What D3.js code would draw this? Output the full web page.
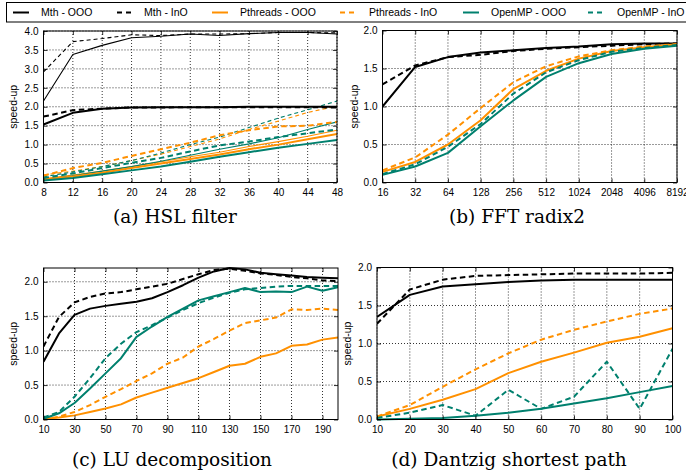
<!DOCTYPE html>
<html><head><meta charset="utf-8">
<script src="https://cdn.jsdelivr.net/npm/d3@7"></script>
<style>
body{margin:0;background:#fff;}
svg{display:block;font-family:"Liberation Sans",Arial,sans-serif;}
</style></head><body>
<svg id="c" width="686" height="475"></svg>
<script>
// ---------- DATA ----------
const seriesNames = ["Mth - OOO","Mth - InO","Pthreads - OOO","Pthreads - InO","OpenMP - OOO","OpenMP - InO"];
const captions = ["(a) HSL filter","(b) FFT radix2","(c) LU decomposition","(d) Dantzig shortest path"];

// (a) HSL filter: two configurations (thin = high, thick = low)
const xA = [8,12,16,20,24,28,32,36,40,44,48];
const aMthOOOHi = [2.15,3.38,3.62,3.82,3.86,3.92,3.88,3.93,3.96,3.96,3.92];
const aMthInOHi = [2.92,3.72,3.80,3.90,3.88,3.92,3.92,3.93,3.96,3.96,3.95];
const aPthOOOHi = [0.10,0.20,0.30,0.42,0.55,0.68,0.80,0.95,1.08,1.22,1.38];
const aPthInOHi = [0.20,0.30,0.42,0.58,0.75,0.95,1.15,1.40,1.62,1.85,2.02];
const aOmpOOOHi = [0.08,0.18,0.30,0.42,0.56,0.72,0.88,1.02,1.18,1.40,1.60];
const aOmpInOHi = [0.15,0.28,0.42,0.58,0.78,1.00,1.20,1.45,1.70,1.92,2.15];
const aMthOOOLo = [1.53,1.84,1.95,1.98,1.99,1.99,1.99,2.00,2.00,2.00,2.00];
const aMthInOLo = [1.74,1.91,1.95,1.98,1.98,1.99,1.99,1.99,1.99,1.99,1.98];
const aPthOOOLo = [0.08,0.16,0.26,0.38,0.50,0.62,0.74,0.88,1.00,1.14,1.28];
const aPthInOLo = [0.18,0.38,0.52,0.70,0.88,1.05,1.25,1.38,1.48,1.50,1.60];
const aOmpOOOLo = [0.05,0.12,0.22,0.32,0.42,0.55,0.68,0.80,0.92,1.02,1.12];
const aOmpInOLo = [0.12,0.24,0.38,0.52,0.65,0.82,0.98,1.08,1.20,1.30,1.40];

// (b) FFT radix2
const xB = [16,32,64,128,256,512,1024,2048,4096,8192];
const bMthOOO = [1.00,1.52,1.65,1.71,1.74,1.77,1.79,1.82,1.83,1.83];
const bMthInO = [1.29,1.54,1.65,1.68,1.73,1.76,1.78,1.80,1.82,1.83];
const bPthOOO = [0.14,0.27,0.50,0.82,1.23,1.47,1.63,1.73,1.78,1.82];
const bPthInO = [0.16,0.33,0.63,0.98,1.32,1.53,1.66,1.74,1.79,1.82];
const bOmpOOO = [0.10,0.21,0.39,0.74,1.08,1.39,1.57,1.69,1.76,1.80];
const bOmpInO = [0.11,0.24,0.47,0.77,1.17,1.45,1.61,1.72,1.77,1.81];

// (c) LU decomposition
const xC = [10,20,30,40,50,60,70,80,90,100,110,120,130,140,150,160,170,180,190,200];
const cMthOOO = [0.84,1.25,1.52,1.61,1.65,1.68,1.71,1.76,1.85,1.95,2.06,2.15,2.20,2.18,2.13,2.11,2.09,2.07,2.06,2.05];
const cMthInO = [1.06,1.49,1.70,1.78,1.83,1.85,1.89,1.93,1.97,2.04,2.11,2.17,2.19,2.16,2.12,2.10,2.07,2.05,2.02,2.01];
const cPthOOO = [0.01,0.03,0.06,0.11,0.16,0.22,0.32,0.39,0.46,0.53,0.60,0.69,0.78,0.81,0.91,0.96,1.07,1.09,1.16,1.19];
const cPthInO = [0.00,0.04,0.11,0.21,0.33,0.44,0.56,0.67,0.81,0.90,1.06,1.17,1.29,1.40,1.44,1.48,1.60,1.59,1.61,1.59];
const cOmpOOO = [0.01,0.09,0.24,0.45,0.67,0.89,1.20,1.35,1.49,1.61,1.73,1.79,1.85,1.91,1.85,1.86,1.85,1.93,1.87,1.92];
const cOmpInO = [0.03,0.11,0.33,0.60,0.89,1.10,1.27,1.37,1.48,1.59,1.69,1.77,1.84,1.89,1.91,1.93,1.94,1.94,1.94,1.94];

// (d) Dantzig shortest path
const xD = [10,20,30,40,50,60,70,80,90,100];
const dMthOOO = [1.35,1.64,1.75,1.78,1.81,1.83,1.84,1.84,1.84,1.84];
const dMthInO = [1.26,1.71,1.84,1.89,1.90,1.91,1.92,1.92,1.92,1.93];
const dPthOOO = [0.04,0.14,0.26,0.40,0.61,0.76,0.88,1.01,1.09,1.20];
const dPthInO = [0.04,0.19,0.43,0.66,0.87,1.05,1.18,1.29,1.39,1.46];
const dOmpOOO = [0.00,0.01,0.02,0.05,0.09,0.14,0.21,0.28,0.36,0.44];
const dOmpInO = [0.02,0.09,0.19,0.05,0.39,0.14,0.30,0.76,0.14,0.93];

const yTicksA = [0,0.5,1,1.5,2,2.5,3,3.5,4];
const xTicksA = [8,12,16,20,24,28,32,36,40,44,48];
const yTicksB = [0,0.5,1,1.5,2];
const yTicksC = [0,0.5,1,1.5,2];
const xTicksC = [10,30,50,70,90,110,130,150,170,190];
const yTicksD = [0,0.5,1,1.5,2];
const xTicksD = [10,20,30,40,50,60,70,80,90,100];

// ---------- STYLE ----------
const BLACK = "#000", ORANGE = "#ff9000", TEAL = "#00806e";
const colors = [BLACK,BLACK,ORANGE,ORANGE,TEAL,TEAL];
const dashed = [false,true,false,true,false,true];
const SANS = "'Liberation Sans',Arial,sans-serif";
const SERIF = "'DejaVu Serif',serif";

const svg = d3.select("#c");

function drawPanel(p, idx){
  const g = svg.append("g");
  const x = p.xLog ? d3.scaleLog().base(2).domain(p.xDomain).range([p.l,p.r])
                   : d3.scaleLinear().domain(p.xDomain).range([p.l,p.r]);
  const y = d3.scaleLinear().domain(p.yDomain).range([p.b,p.t]);
  const W = p.r-p.l, H = p.b-p.t;
  const cid = "clip"+idx;
  g.append("clipPath").attr("id",cid).append("rect")
    .attr("x",p.l).attr("y",p.t-2).attr("width",W).attr("height",H+4);

  // grid
  const grid = g.append("g").attr("stroke","#000").attr("stroke-width",0.8)
    .attr("stroke-dasharray","1,2").attr("fill","none");
  p.xTicks.forEach(v=>{ grid.append("line").attr("x1",x(v)).attr("x2",x(v)).attr("y1",p.t).attr("y2",p.b); });
  p.yTicks.forEach(v=>{ grid.append("line").attr("x1",p.l).attr("x2",p.r).attr("y1",y(v)).attr("y2",y(v)); });

  // lines
  const lg = g.append("g").attr("clip-path",`url(#${cid})`);
  p.series.forEach(s=>{
    const line = d3.line().x((d,i)=>x(s.x[i])).y(d=>y(d));
    lg.append("path").datum(s.y).attr("d",line).attr("fill","none")
      .attr("stroke",colors[s.k]).attr("stroke-width",s.w)
      .attr("stroke-dasharray",dashed[s.k] ? (s.w>1.5?"5.5,3.5":"4,3") : null)
      .attr("stroke-linejoin","round");
  });

  // axes (bottom/left with labels, top/right inward ticks)
  const tl = 4;
  const ab = d3.axisBottom(x).tickValues(p.xTicks).tickSize(-tl).tickPadding(6).tickFormat(d3.format("d"));
  const al = d3.axisLeft(y).tickValues(p.yTicks).tickSize(-tl).tickPadding(5).tickFormat(d3.format(".1f"));
  const at = d3.axisTop(x).tickValues(p.xTicks).tickSize(-tl).tickFormat("");
  const ar = d3.axisRight(y).tickValues(p.yTicks).tickSize(-tl).tickFormat("");
  [[ab,`translate(0,${p.b})`],[al,`translate(${p.l},0)`],[at,`translate(0,${p.t})`],[ar,`translate(${p.r},0)`]]
    .forEach(([ax,tr])=>{
      const a = g.append("g").attr("transform",tr).call(ax);
      a.select(".domain").remove();
      a.selectAll("line").attr("stroke","#000").attr("stroke-width",0.8);
      a.selectAll("text").style("font-family",SANS).style("font-size","10px").attr("fill","#000");
    });
  g.append("rect").attr("x",p.l).attr("y",p.t).attr("width",W).attr("height",H)
    .attr("fill","none").attr("stroke","#000").attr("stroke-width",1);

  // y label
  g.append("text").attr("transform",`translate(${p.ylx},${(p.t+p.b)/2}) rotate(-90)`)
    .attr("text-anchor","middle").style("font-family",SANS).style("font-size","10.5px").text("speed-up");
  // caption
  g.append("text").attr("x",p.cx).attr("y",p.cy).attr("text-anchor","middle")
    .style("font-family",SERIF).style("font-size","18.5px").attr("fill","#000")
    .text(captions[idx]);
}

const mk = (xs, arrs, w) => arrs.map((a,k)=>({x:xs, y:a, k:k, w:w}));

const panels = [
  {l:43.5,r:337,t:31,b:182.5,xDomain:[8,48],yDomain:[0,4],xTicks:xTicksA,yTicks:yTicksA,ylx:17,cx:175,cy:223,
   series: mk(xA,[aMthOOOHi,aMthInOHi,aPthOOOHi,aPthInOHi,aOmpOOOHi,aOmpInOHi],1.1)
     .concat(mk(xA,[aMthOOOLo,aMthInOLo,aPthOOOLo,aPthInOLo,aOmpOOOLo,aOmpInOLo],2))},
  {l:382.5,r:677,t:30.5,b:182.5,xLog:true,xDomain:[16,8192],yDomain:[0,2],xTicks:xB,yTicks:yTicksB,ylx:358,cx:517,cy:223,
   series: mk(xB,[bMthOOO,bMthInO,bPthOOO,bPthInO,bOmpOOO,bOmpInO],2)},
  {l:43.5,r:338,t:268,b:419.5,xDomain:[10,200],yDomain:[0,2.2],xTicks:xTicksC,yTicks:yTicksC,ylx:17,cx:172,cy:466,
   series: mk(xC,[cMthOOO,cMthInO,cPthOOO,cPthInO,cOmpOOO,cOmpInO],2)},
  {l:377,r:672.5,t:267.5,b:419.5,xDomain:[10,100],yDomain:[0,2],xTicks:xTicksD,yTicks:yTicksD,ylx:351,cx:509,cy:466,
   series: mk(xD,[dMthOOO,dMthInO,dPthOOO,dPthInO,dOmpOOO,dOmpInO],2)}
];
panels.forEach((p,i)=>drawPanel(p,i));

// legend
const lgd = svg.append("g");
lgd.append("rect").attr("x",6.5).attr("y",2.5).attr("width",690).attr("height",19.5)
  .attr("fill","#fff").attr("stroke","#000").attr("stroke-width",1);
const lx = [13,117,212,340,463,588], tx = [41,144,240,369,491,617];
seriesNames.forEach((n,k)=>{
  lgd.append("line").attr("x1",lx[k]).attr("x2",lx[k]+16).attr("y1",12.5).attr("y2",12.5)
    .attr("stroke",colors[k]).attr("stroke-width",2).attr("stroke-dasharray",dashed[k]?"5,4":null);
  lgd.append("text").attr("x",tx[k]).attr("y",16.3).style("font-family",SANS).style("font-size","10.5px")
    .attr("fill","#000").text(n);
});
</script></body></html>
